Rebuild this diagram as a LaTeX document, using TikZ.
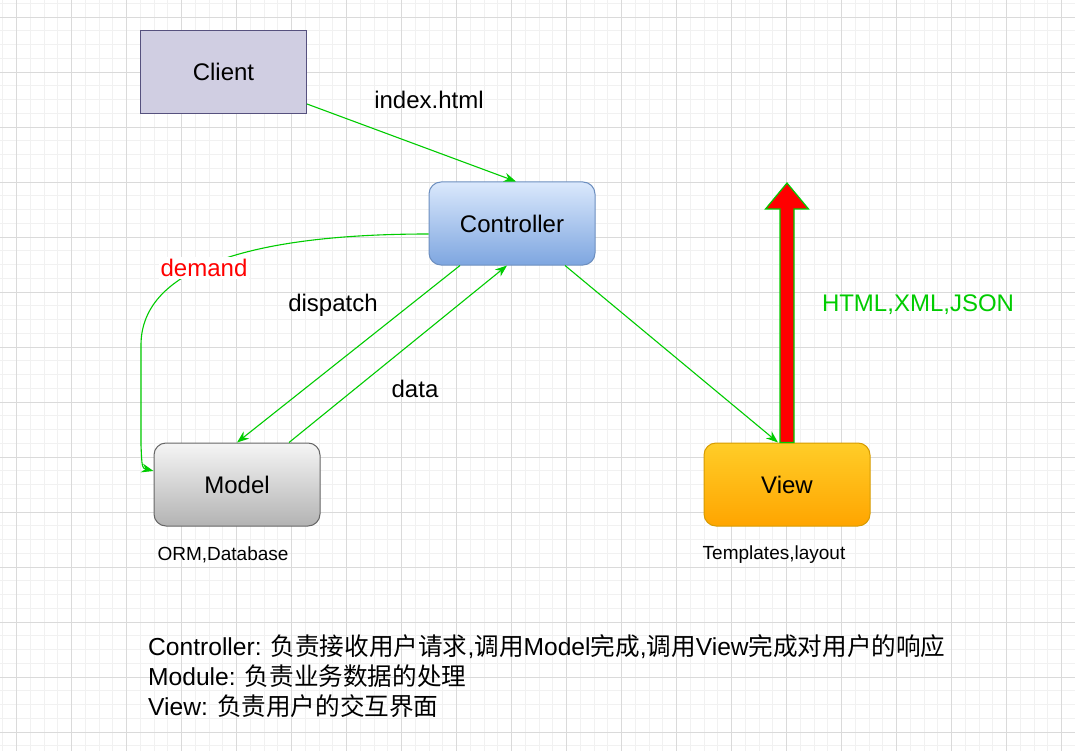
\documentclass[tikz,border=0pt]{standalone}
\usepackage{fontspec}
\setmainfont{Liberation Sans}
\newfontfamily\cjk{Noto Sans CJK SC}
\newcommand\zhtext[1]{{\cjk #1}}
\usepackage{tikz}
\usetikzlibrary{positioning}
\usetikzlibrary{arrows.meta, calc}

\definecolor{flowgreen}{HTML}{00CC00}
\definecolor{gridminor}{HTML}{F1F1F1}
\definecolor{gridmajor}{HTML}{DADADA}

\begin{document}
\begin{tikzpicture}[x=1pt, y=-1pt]

    \tikzset{
        box/.style={
            draw,
            line width=1pt,
            minimum width=166pt,
            minimum height=83pt,
            font=\fontsize{24}{28}\selectfont
        },
        flow/.style={
            draw=flowgreen,
            line width=1.1pt,
            -{Stealth[length=12pt, width=9pt]}
        },
        tag/.style={
            font=\fontsize{24}{28}\selectfont
        },
        note/.style={
            font=\fontsize{19}{22}\selectfont
        },
        legend/.style={
            anchor=base west,
            inner sep=0pt,
            font=\fontsize{24.6}{30}\selectfont
        }
    }

    % canvas and grid
    \useasboundingbox (0,0) rectangle (1075,751);
    \fill[white] (0,0) rectangle (1075,751);
    \begin{scope}[shift={(16.5,17)}]
        \draw[gridminor, line width=0.8pt, step=13.75pt] (-16.5,-17) grid (1058.5,734);
        \draw[gridmajor, line width=0.8pt, step=55pt] (-16.5,-17) grid (1058.5,734);
    \end{scope}

    \node[box, fill={rgb,255:red,208;green,206;blue,226}, draw={rgb,255:red,86;green,81;blue,126}] (client) at (223.5,72) {Client};
    \node[box, rounded corners=12pt, top color={rgb,255:red,218;green,232;blue,252}, bottom color={rgb,255:red,126;green,166;blue,224}, draw={rgb,255:red,108;green,142;blue,191}] (ctrl) at (512,223.5) {Controller};
    \node[box, rounded corners=12pt, top color={rgb,255:red,245;green,245;blue,245}, bottom color={rgb,255:red,179;green,179;blue,179}, draw={rgb,255:red,102;green,102;blue,102}] (model) at (237,484.5) {Model};
    \node[box, rounded corners=12pt, top color={rgb,255:red,255;green,205;blue,40}, bottom color={rgb,255:red,255;green,165;blue,0}, draw={rgb,255:red,215;green,155;blue,0}] (view) at (787,484.5) {View};

    \node[note] (orm) at (223,555) {ORM,Database};
    \node[note] (tpl) at (774,555) {Templates,layout};

    \draw[flow] ([yshift=10pt]client.south east) -- ([xshift=4pt]ctrl.north);
    \draw[flow] ([xshift=-52pt]ctrl.south) -- (model.north);
    \draw[flow] ([xshift=52pt]model.north) -- ([xshift=-5pt]ctrl.south);
    \draw[flow] ([xshift=53pt]ctrl.south) -- ([xshift=-9pt]view.north);
    \draw[flow] ([yshift=-10.5pt]ctrl.west) .. controls (260,234) and (141,265) .. (141,345)
        -- (141,445) .. controls (142,468) .. ([yshift=13.5pt]model.west);

    % response arrow
    \coordinate (peak) at (787,183);
    \draw[draw=flowgreen, fill=red, line width=1.2pt, line join=miter]
        ([xshift=-7pt]view.north) -- ($(peak)+(-7,26)$) -- ($(peak)+(-21.5,26)$) -- (peak)
        -- ($(peak)+(21.5,26)$) -- ($(peak)+(7,26)$) -- ([xshift=7pt]view.north) -- cycle;

    \node[tag] (idx) at (429,100) {index.html};
    \node[tag] (disp) at (333,305) {dispatch};
    \node[tag] (dat) at (415,389) {data};
    \node[tag, text=red, fill=white, inner sep=2pt] (dem) at (204,268) {demand};
    \node[tag, text=flowgreen] (fmt) at (918,305) {HTML,XML,JSON};

    \node[legend] (line1) at (148,655) {Controller: \zhtext{负责接收用户请求},\zhtext{调用}Model\zhtext{完成},\zhtext{调用}View\zhtext{完成对用户的响应}};
    \node[legend] (line2) at (148,685) {Module: \zhtext{负责业务数据的处理}};
    \node[legend] (line3) at (148,715) {View: \zhtext{负责用户的交互界面}};

\end{tikzpicture}
\end{document}
